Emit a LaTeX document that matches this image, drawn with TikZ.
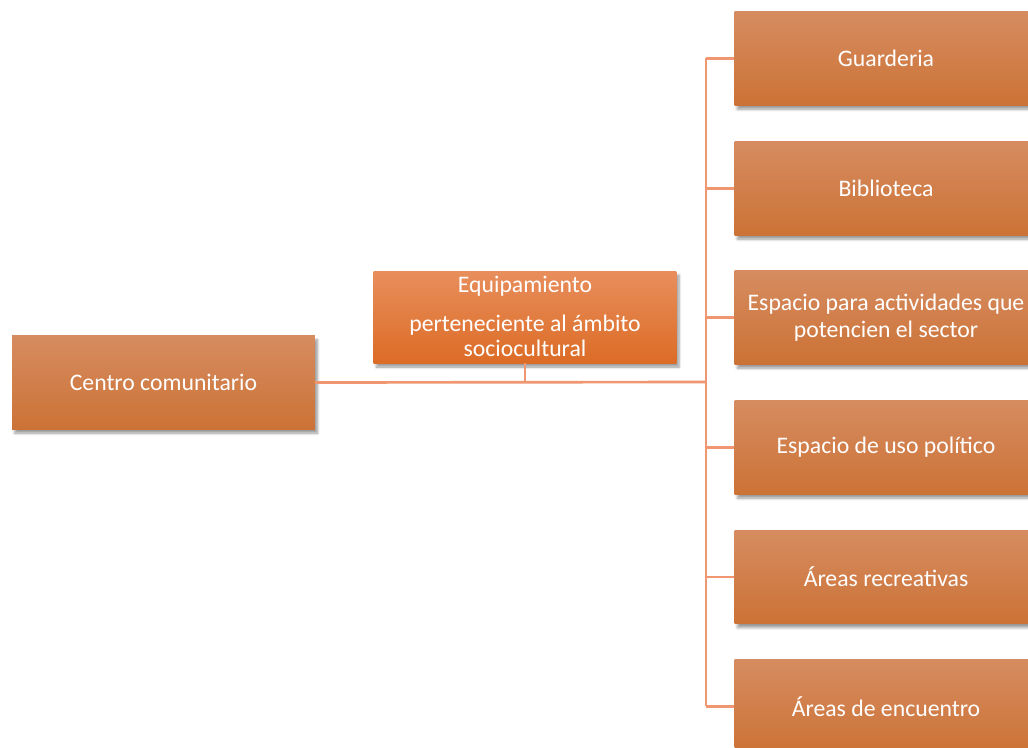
\documentclass[tikz,border=0pt]{standalone}
\usepackage{fontspec}
\setmainfont{Carlito}
\usetikzlibrary{shadows.blur}
\definecolor{boxtop}{RGB}{214,140,96}
\definecolor{boxbot}{RGB}{204,114,54}
\definecolor{midtop}{RGB}{232,142,92}
\definecolor{midbot}{RGB}{220,108,38}
\definecolor{linkc}{RGB}{240,150,112}
\tikzset{
  orgbox/.style={rectangle, minimum width=227pt, minimum height=70pt, inner sep=2pt,
    top color=boxtop, bottom color=boxbot, draw=none, text=white, align=center,
    font=\fontsize{17.8}{20}\selectfont,
    blur shadow={shadow xshift=2pt, shadow yshift=-3pt, shadow blur steps=6, shadow opacity=40}},
  midbox/.style={orgbox, top color=midtop, bottom color=midbot, minimum height=69pt},
  link/.style={draw=linkc, line width=2pt}
}
\begin{document}
\begin{tikzpicture}[x=0.75pt,y=-0.75pt]
\useasboundingbox (0,0) rectangle (1028,747);
\clip (0,0) rectangle (1028,747);
% connectors first
\coordinate (bustop) at (706,58);
\coordinate (busbot) at (706,706);
\node[orgbox] (left) at (163.5,382.5) {Centro comunitario};
\node[midbox] (mid) at (525,317) {};
\node[text=white, font=\fontsize{17.8}{20}\selectfont] (midl1) at (525,286) {Equipamiento};
\node[text=white, font=\fontsize{17.8}{20}\selectfont, align=center] (midl2) at (525,336) {perteneciente al ámbito\\[-1pt]sociocultural};
\coordinate (hub) at (706,382);
\begin{scope}[on background layer/.style={}]
\end{scope}
\node[orgbox] (c1) at (886,58.5) {Guarderia};
\node[orgbox] (c2) at (886,188.5) {Biblioteca};
\node[orgbox] (c3) at (886,317.5) {Espacio para actividades que\\potencien el sector};
\node[orgbox] (c4) at (886,447.5) {Espacio de uso político};
\node[orgbox] (c5) at (886,577) {Áreas recreativas};
\node[orgbox] (c6) at (886,706.5) {Áreas de encuentro};
\draw[link] (left.east) -- (hub);
\draw[link] (mid.south) -- (mid.south |- hub);
\draw[link] (bustop) -- (busbot);
\foreach \c in {c1,c2,c3,c4,c5,c6}{
  \draw[link] (bustop |- \c.west) -- (\c.west);
}
\end{tikzpicture}
\end{document}
